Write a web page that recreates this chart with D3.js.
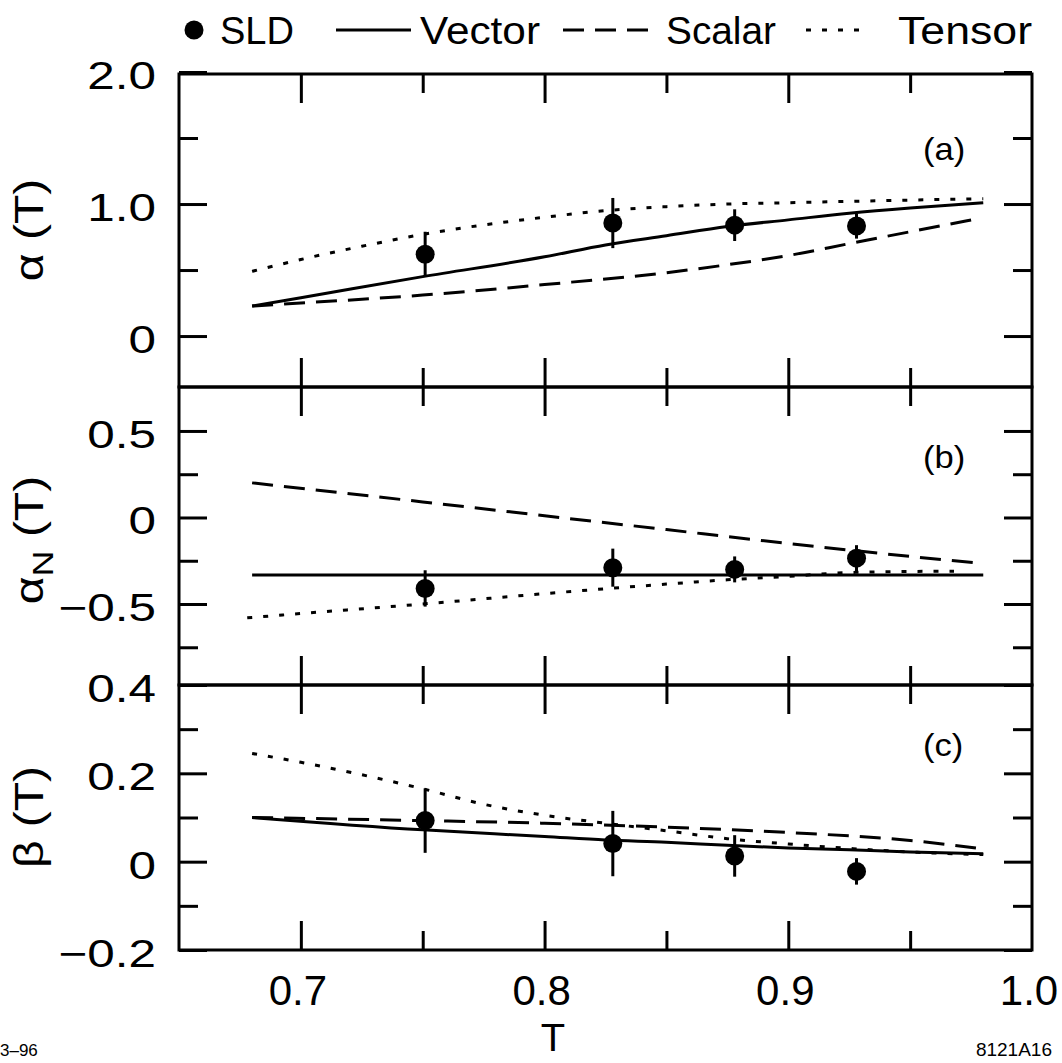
<!DOCTYPE html>
<html lang="en">
<head>
  <meta charset="utf-8">
  <title>alpha, alpha_N, beta vs T</title>
  <script src="https://d3js.org/d3.v7.min.js"></script>
  <style>
    body { margin: 0; background: #fff; }
    text { font-family: "Liberation Sans", Arial, sans-serif; fill: #000; }
  </style>
</head>
<body>

<svg width="1062" height="1063"></svg>

<script>
  // ---- data ----
  const sldT = [0.751, 0.828, 0.878, 0.928];

  // panel (a) alpha(T)
  const sldA = [0.62, 0.856, 0.84, 0.833];
  const errA = [0.17, 0.19, 0.12, 0.095];
  const vectorAT = [0.68, 0.70, 0.75, 0.80, 0.825, 0.85, 0.875, 0.90, 0.925, 0.95, 0.98];
  const vectorA  = [0.227, 0.29, 0.45, 0.60, 0.69, 0.76, 0.83, 0.88, 0.93, 0.97, 1.01];
  const scalarAT = [0.68, 0.70, 0.75, 0.80, 0.85, 0.875, 0.90, 0.925, 0.95, 0.977];
  const scalarA  = [0.227, 0.25, 0.31, 0.39, 0.48, 0.54, 0.61, 0.70, 0.79, 0.886];
  const tensorAT = [0.68, 0.70, 0.725, 0.75, 0.80, 0.825, 0.85, 0.875, 0.90, 0.95, 0.98];
  const tensorA  = [0.49, 0.58, 0.68, 0.77, 0.90, 0.95, 0.98, 1.00, 1.01, 1.03, 1.04];

  // panel (b) alpha_N(T)
  const sldB = [-0.41, -0.29, -0.30, -0.235];
  const errB = [0.105, 0.11, 0.075, 0.075];
  const vectorBT = [0.68, 0.98];
  const vectorB  = [-0.332, -0.332];
  const scalarBT = [0.68, 0.75, 0.80, 0.85, 0.90, 0.95, 0.976];
  const scalarB  = [0.20, 0.09, 0.01, -0.07, -0.15, -0.225, -0.26];
  const tensorBT = [0.678, 0.70, 0.75, 0.80, 0.85, 0.875, 0.90, 0.925, 0.968];
  const tensorB  = [-0.58, -0.555, -0.50, -0.44, -0.385, -0.36, -0.34, -0.318, -0.31];

  // panel (c) beta(T)
  const sldC = [0.093, 0.041, 0.013, -0.022];
  const errC = [0.073, 0.074, 0.047, 0.03];
  const vectorCT = [0.68, 0.75, 0.80, 0.825, 0.85, 0.875, 0.90, 0.925, 0.95, 0.98];
  const vectorC  = [0.10, 0.072, 0.057, 0.049, 0.044, 0.037, 0.031, 0.027, 0.022, 0.018];
  const scalarCT = [0.68, 0.75, 0.80, 0.85, 0.90, 0.95, 0.977];
  const scalarC  = [0.10, 0.093, 0.087, 0.078, 0.066, 0.048, 0.031];
  const tensorCT = [0.68, 0.70, 0.75, 0.775, 0.80, 0.825, 0.85, 0.875, 0.90, 0.925, 0.95, 0.98];
  const tensorC  = [0.245, 0.225, 0.165, 0.13, 0.105, 0.087, 0.07, 0.052, 0.04, 0.03, 0.022, 0.016];

  // ticks / labels
  const xMajor = [0.7, 0.8, 0.9];
  const xMinor = [0.75, 0.85, 0.95];
  const xLabels = ["0.7", "0.8", "0.9", "1.0"];
  const xLabelVals = [0.7, 0.8, 0.9, 1.0];

  const legendNames = ["SLD", "Vector", "Scalar", "Tensor"];

  const svg = d3.select("svg");
  const x0 = 179, x1 = 1032;
  const x = d3.scaleLinear().domain([0.65, 1.0]).range([x0, x1]);

  const DASH = { Vector: null, Scalar: "21,11", Tensor: "5,11" };

  function label(px, py, str, size, anchor, sx, rot) {
    return svg.append("text")
      .attr("transform", `translate(${px},${py})` + (rot ? ` rotate(${rot})` : "") + ` scale(${sx},1)`)
      .attr("text-anchor", anchor)
      .attr("font-size", size)
      .text(str);
  }

  const panels = [
    { top: 74, bottom: 387, domain: [-0.386, 1.985], major: [0, 1, 2], minor: [0.5, 1.5],
      labels: ["0", "1.0", "2.0"], labelVals: [0, 1, 2], tag: "(a)", tagY: 160,
      sld: sldA, err: errA,
      curves: [[vectorAT, vectorA, "Vector"], [scalarAT, scalarA, "Scalar"], [tensorAT, tensorA, "Tensor"]] },
    { top: 387, bottom: 685, domain: [-0.968, 0.754], major: [-0.5, 0, 0.5], minor: [-0.75, -0.25, 0.25],
      labels: ["\u22120.5", "0", "0.5"], labelVals: [-0.5, 0, 0.5], tag: "(b)", tagY: 468,
      sld: sldB, err: errB,
      curves: [[vectorBT, vectorB, "Vector"], [scalarBT, scalarB, "Scalar"], [tensorBT, tensorB, "Tensor"]] },
    { top: 685, bottom: 950, domain: [-0.2, 0.4], major: [-0.2, 0, 0.2, 0.4], minor: [-0.1, 0.1, 0.3],
      labels: ["\u22120.2", "0", "0.2", "0.4"], labelVals: [-0.2, 0, 0.2, 0.4], tag: "(c)", tagY: 756,
      sld: sldC, err: errC,
      curves: [[vectorCT, vectorC, "Vector"], [scalarCT, scalarC, "Scalar"], [tensorCT, tensorC, "Tensor"]] }
  ];

  panels.forEach(p => {
    const y = d3.scaleLinear().domain(p.domain).range([p.bottom, p.top]);
    const g = svg.append("g");

    // inward ticks on all four sides
    const addAxis = (axis, tx, ty) => {
      const a = g.append("g").attr("transform", `translate(${tx},${ty})`).call(axis);
      a.select(".domain").remove();
      a.selectAll("line").attr("stroke", "#000").attr("stroke-width", 3);
    };
    addAxis(d3.axisRight(y).tickValues(p.major).tickSize(28).tickFormat(""), x0, 0);
    addAxis(d3.axisRight(y).tickValues(p.minor).tickSize(19).tickFormat(""), x0, 0);
    addAxis(d3.axisLeft(y).tickValues(p.major).tickSize(28).tickFormat(""), x1, 0);
    addAxis(d3.axisLeft(y).tickValues(p.minor).tickSize(19).tickFormat(""), x1, 0);
    addAxis(d3.axisBottom(x).tickValues(xMajor).tickSize(29).tickFormat(""), 0, p.top);
    addAxis(d3.axisBottom(x).tickValues(xMinor).tickSize(19).tickFormat(""), 0, p.top);
    addAxis(d3.axisTop(x).tickValues(xMajor).tickSize(29).tickFormat(""), 0, p.bottom);
    addAxis(d3.axisTop(x).tickValues(xMinor).tickSize(19).tickFormat(""), 0, p.bottom);

    // frame
    g.append("rect")
      .attr("x", x0).attr("y", p.top)
      .attr("width", x1 - x0).attr("height", p.bottom - p.top)
      .attr("fill", "none").attr("stroke", "#000").attr("stroke-width", 3);

    // y tick labels
    p.labelVals.forEach((v, i) => {
      label(156, y(v) + 17, p.labels[i], 38, "end", 1.3);
    });

    // curves
    const line = d3.line().x(d => x(d[0])).y(d => y(d[1])).curve(d3.curveMonotoneX);
    p.curves.forEach(([ts, vs, name]) => {
      g.append("path")
        .datum(ts.map((t, i) => [t, vs[i]]))
        .attr("d", line)
        .attr("fill", "none")
        .attr("stroke", "#000")
        .attr("stroke-width", 3)
        .attr("stroke-dasharray", DASH[name]);
    });

    // SLD points with error bars
    sldT.forEach((t, i) => {
      g.append("line")
        .attr("x1", x(t)).attr("x2", x(t))
        .attr("y1", y(p.sld[i] - p.err[i])).attr("y2", y(p.sld[i] + p.err[i]))
        .attr("stroke", "#000").attr("stroke-width", 3);
      g.append("circle")
        .attr("cx", x(t)).attr("cy", y(p.sld[i]))
        .attr("r", 9.5).attr("fill", "#000");
    });

    label(923, p.tagY, p.tag, 32, "start", 1.08);
  });

  // x tick labels
  xLabelVals.forEach((v, i) => {
    label(x(v) - 3, 1005, xLabels[i], 42, "middle", 1.0);
  });

  // axis titles
  label(553, 1051, "T", 38, "middle", 1.05);
  label(43, 230, "\u03b1 (T)", 40, "middle", 1.2, -90);
  const tN = svg.append("text")
    .attr("transform", "translate(43,540) rotate(-90) scale(1.2,1)")
    .attr("text-anchor", "middle")
    .attr("font-size", 40);
  tN.append("tspan").text("\u03b1");
  tN.append("tspan").attr("font-size", 30).attr("dy", 10).text("N");
  tN.append("tspan").attr("dy", -10).text(" (T)");
  label(43, 817, "\u03b2 (T)", 40, "middle", 1.2, -90);

  // footer notes
  label(0, 1056, "3\u201396", 17, "start", 1.0);
  label(1052, 1056, "8121A16", 19, "end", 1.0);

  // legend
  const ly = 30;
  svg.append("circle").attr("cx", 194).attr("cy", ly).attr("r", 9.5).attr("fill", "#000");
  const legendSpots = [
    { name: legendNames[0], x: 220, w: 74 },
    { name: legendNames[1], x: 420, w: 120, l0: 336, l1: 411 },
    { name: legendNames[2], x: 666, w: 110, l0: 563, l1: 653 },
    { name: legendNames[3], x: 898, w: 134, l0: 806, l1: 870 }
  ];
  legendSpots.forEach(s => {
    if (s.l0 !== undefined) {
      svg.append("line")
        .attr("x1", s.l0).attr("x2", s.l1).attr("y1", ly).attr("y2", ly)
        .attr("stroke", "#000").attr("stroke-width", 3)
        .attr("stroke-dasharray", DASH[s.name]);
    }
    svg.append("text")
      .attr("x", s.x).attr("y", ly + 14)
      .attr("font-size", 38)
      .attr("textLength", s.w)
      .attr("lengthAdjust", "spacingAndGlyphs")
      .text(s.name);
  });
</script>
</body>
</html>
